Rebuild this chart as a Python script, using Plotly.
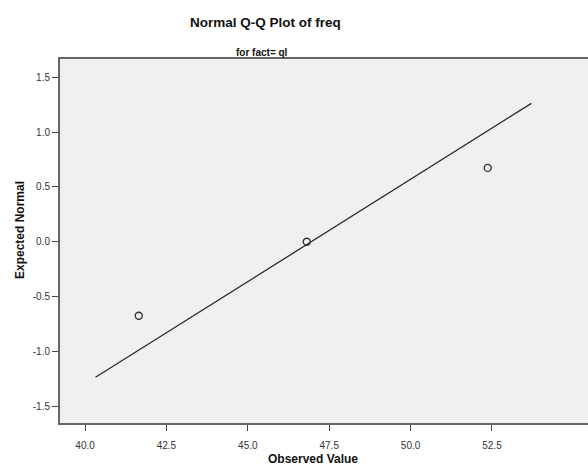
import numpy as np
import plotly.graph_objects as go

observed = [41.65, 46.81, 52.37]
expected_normal = [-0.674, 0.0, 0.674]
line_x = [40.32, 53.71]
x_ticks = [40.0, 42.5, 45.0, 47.5, 50.0, 52.5]
y_ticks = [-1.5, -1.0, -0.5, 0.0, 0.5, 1.0, 1.5]

mean = np.mean(observed)
sd = np.std(observed, ddof=1)
line_y = [(v - mean) / sd for v in line_x]

W, H = 588, 465
ml, mr, mt, mb = 60, 0, 59, 42

fig = go.Figure()
fig.add_trace(go.Scatter(x=line_x, y=line_y, mode="lines",
                         line=dict(color="#2b2b2b", width=1.3),
                         hoverinfo="skip", showlegend=False))
fig.add_trace(go.Scatter(x=observed, y=expected_normal, mode="markers",
                         marker=dict(symbol="circle-open", size=7,
                                     color="#333333", line=dict(width=1.4)),
                         showlegend=False))

fig.update_layout(
    width=W, height=H,
    margin=dict(l=ml, r=mr, t=mt, b=mb),
    paper_bgcolor="white",
    plot_bgcolor="#f0f0f0",
    font=dict(family="Liberation Sans, Arial, sans-serif", color="#222"),
    xaxis=dict(range=[39.23, 55.45], tickvals=x_ticks,
               ticktext=[f"{v:.1f}" for v in x_ticks],
               showgrid=False, zeroline=False,
               showline=True, linecolor="#666", linewidth=2, mirror=True,
               ticks="outside", ticklen=6, tickcolor="#444", tickwidth=1,
               ticklabelstandoff=6,
               tickfont=dict(size=10, color="#333")),
    yaxis=dict(range=[-1.652, 1.667], tickvals=y_ticks,
               ticktext=[f"{v:.1f}" for v in y_ticks],
               showgrid=False, zeroline=False,
               showline=True, linecolor="#666", linewidth=2,
               ticks="outside", ticklen=6, tickcolor="#444", tickwidth=1,
               tickfont=dict(size=10, color="#333")),
    annotations=[
        dict(text="<b>Normal Q-Q Plot of freq</b>", xref="paper", yref="paper",
             x=(265 - ml) / (W - ml - mr), y=1 + (mt - 22.7) / (H - mt - mb),
             xanchor="center", yanchor="middle", showarrow=False,
             font=dict(size=13.5, color="#111")),
        dict(text="<b>for fact= ql</b>", xref="paper", yref="paper",
             x=(262 - ml) / (W - ml - mr), y=1 + (mt - 52.5) / (H - mt - mb),
             xanchor="center", yanchor="middle", showarrow=False,
             font=dict(size=10, color="#111")),
        dict(text="<b>Observed Value</b>", xref="paper", yref="paper",
             x=(313 - ml) / (W - ml - mr), y=-(459 - (H - mb)) / (H - mt - mb),
             xanchor="center", yanchor="middle", showarrow=False,
             font=dict(size=12, color="#111")),
        dict(text="<b>Expected Normal</b>", xref="paper", yref="paper",
             x=-(ml - 20) / (W - ml - mr), y=1 - (230 - mt) / (H - mt - mb),
             xanchor="center", yanchor="middle", showarrow=False, textangle=-90,
             font=dict(size=12, color="#111")),
    ],
)

fig.write_html("out.html", config={"displayModeBar": False},
               post_script="document.body.style.margin='0';document.body.style.overflow='hidden';")
